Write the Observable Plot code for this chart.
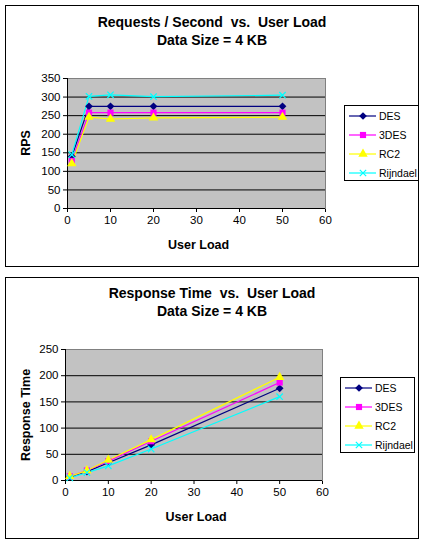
<!DOCTYPE html>
<html>
<head>
<meta charset="utf-8">
<script src="https://cdn.jsdelivr.net/npm/d3@7"></script>
<script src="https://cdn.jsdelivr.net/npm/@observablehq/plot@0.6"></script>
<style>
  body { margin: 0; background: #fff; font-family: "Liberation Sans", Arial, sans-serif; }
  #page { position: relative; width: 421px; height: 541px; overflow: hidden; }
  .box { position: absolute; border: 1px solid #000; box-sizing: border-box; }
  .title { position: absolute; left: 5px; width: 414px; text-align: center; font-weight: bold; font-size: 14px; white-space: pre; line-height: 18px; }
  .axt { position: absolute; font-weight: bold; font-size: 12.5px; white-space: pre; }
  .chart { position: absolute; left: 0; }
  .legend { position: absolute; border: 1px solid #000; background: #fff; box-sizing: border-box; }
</style>
</head>
<body>
<svg width="0" height="0" style="position:absolute">
  <defs>
    <pattern id="dots" width="2" height="2" patternUnits="userSpaceOnUse">
      <rect width="2" height="2" fill="#b6b6b6"></rect>
      <rect width="1" height="1" fill="#e6e6e6"></rect>
    </pattern>
  </defs>
</svg>
<div id="page">
  <div class="box" style="left:5px;top:5px;width:414px;height:262px"></div>
  <div class="box" style="left:5px;top:277px;width:414px;height:262px"></div>
</div>
<script>
const xLoad = [1, 5, 10, 20, 50];
const series = ["DES", "3DES", "RC2", "Rijndael"];
const colors = ["#000080", "#ff00ff", "#ffff00", "#00ffff"];
const symbols = ["diamond2", "square", "triangle", "times"];

// requests per second
const rpsDES = [140, 275, 275, 275, 275];
const rps3DES = [128, 258, 258, 258, 258];
const rpsRC2 = [121, 246, 241, 244, 246];
const rpsRijndael = [145, 302, 306, 301, 305];

// response time
const rtDES = [7, 17, 34, 68, 176];
const rt3DES = [8, 19, 37, 75, 187];
const rtRC2 = [8, 19, 39, 78, 197];
const rtRijndael = [5, 15, 28, 60, 160];

const xTicks = [0, 10, 20, 30, 40, 50, 60];
const rpsTicks = [0, 50, 100, 150, 200, 250, 300, 350];
const rtTicks = [0, 50, 100, 150, 200, 250];

const page = d3.select("#page");

function rows(lists) {
  let out = [];
  lists.forEach((vals, i) => {
    vals.forEach((v, j) => out.push({serie: series[i], x: xLoad[j], y: v}));
  });
  return out;
}

function makeChart(o) {
  const data = rows(o.lists);
  const chart = Plot.plot({
    width: 421,
    height: 270,
    marginLeft: o.left,
    marginRight: 421 - o.right,
    marginTop: o.top,
    marginBottom: 270 - o.bottom,
    style: {fontFamily: "Liberation Sans, Arial, sans-serif", fontSize: "11.5px", color: "#000", background: "transparent"},
    x: {domain: [0, 60], ticks: xTicks, tickSize: 4, tickPadding: 3, label: null},
    y: {domain: o.ydomain, ticks: o.yTicks, tickSize: 4, tickPadding: 3, label: null},
    color: {domain: series, range: colors},
    symbol: {domain: series, range: symbols},
    marks: [
      Plot.frame({fill: "url(#dots)", stroke: "#808080"}),
      Plot.ruleY(o.yTicks.slice(1, -1), {stroke: "#000"}),
      Plot.ruleX([0], {stroke: "#000"}),
      Plot.ruleY([0], {stroke: "#000"}),
      Plot.line(data, {x: "x", y: "y", z: "serie", stroke: "serie", strokeWidth: 1.2}),
      Plot.dot(data.filter(d => d.serie !== "Rijndael"), {x: "x", y: "y", symbol: "serie", fill: "serie", r: 3.5}),
      Plot.dot(data.filter(d => d.serie === "Rijndael"), {x: "x", y: "y", symbol: "serie", stroke: "serie", r: 3, strokeWidth: 1.2})
    ]
  });
  page.append(() => chart).attr("class", "chart").style("top", o.svgTop + "px");

  page.append("div").attr("class", "title").style("top", o.titleTop + "px").text(o.title + "\nData Size = 4 KB");
  page.append("div").attr("class", "axt").text("User Load")
    .style("left", ((o.left + o.right) / 2 - 28) + "px").style("top", (o.svgTop + o.bottom + 30) + "px");
  page.append("div").attr("class", "axt").text(o.ylabel)
    .style("left", "26px").style("top", (o.svgTop + (o.top + o.bottom) / 2) + "px")
    .style("transform", "translate(-50%, -50%) rotate(-90deg)");

  // legend
  const lg = page.append("div").attr("class", "legend")
    .style("left", o.lx + "px").style("top", o.ly + "px").style("width", "75px").style("height", "76px");
  const svg = lg.append("svg").attr("width", 73).attr("height", 74);
  series.forEach((s, i) => {
    const g = svg.append("g").attr("transform", `translate(0,${10 + i * 19})`);
    g.append("line").attr("x1", 4).attr("x2", 31).attr("stroke", colors[i]).attr("stroke-width", 1.2);
    const sym = [d3.symbolDiamond2, d3.symbolSquare, d3.symbolTriangle, d3.symbolTimes][i];
    const p = g.append("path").attr("transform", "translate(18,0)")
      .attr("d", d3.symbol(sym, i === 3 ? 28 : 38)());
    if (i === 3) p.attr("fill", "none").attr("stroke", colors[i]).attr("stroke-width", 1.2);
    else p.attr("fill", colors[i]);
    g.append("text").attr("x", 34).attr("y", 4).attr("font-size", "10.5px")
      .attr("font-family", "Liberation Sans, Arial, sans-serif").text(s);
  });
}

makeChart({
  lists: [rpsDES, rps3DES, rpsRC2, rpsRijndael],
  ydomain: [0, 350], yTicks: rpsTicks,
  left: 67, right: 325, top: 78, bottom: 208, svgTop: 0,
  title: "Requests / Second  vs.  User Load", titleTop: 13, ylabel: "RPS",
  lx: 344, ly: 105
});

makeChart({
  lists: [rtDES, rt3DES, rtRC2, rtRijndael],
  ydomain: [0, 250], yTicks: rtTicks,
  left: 65, right: 322, top: 79, bottom: 210, svgTop: 270,
  title: "Response Time  vs.  User Load", titleTop: 284, ylabel: "Response Time",
  lx: 340, ly: 377
});
</script>
</body>
</html>
